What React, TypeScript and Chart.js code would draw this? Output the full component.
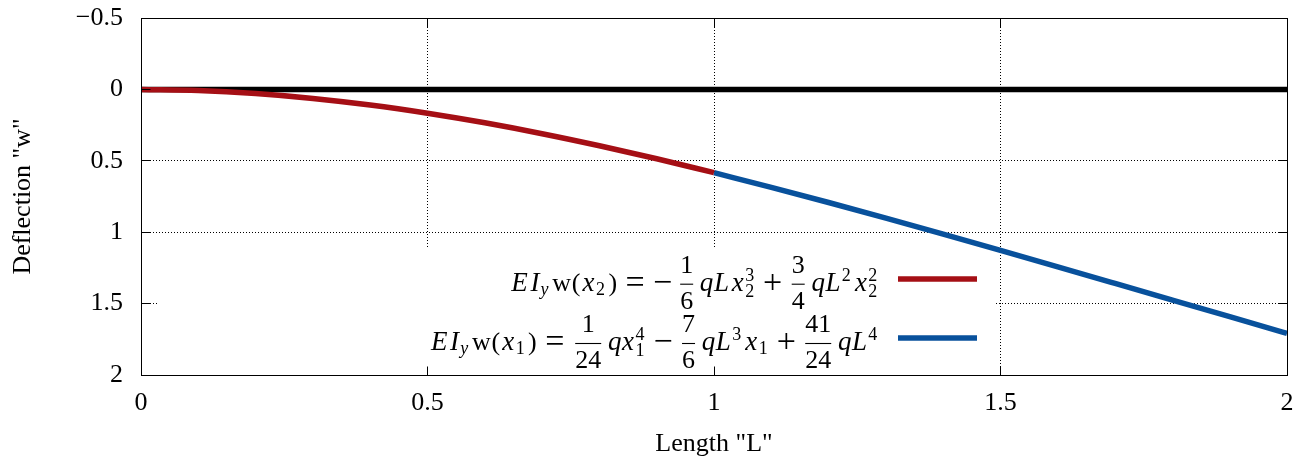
import React, { useEffect, useRef } from 'react';
import { Chart, registerables } from 'chart.js';

Chart.register(...registerables);

// ---- data ----
const xRed = [0, 0.1, 0.2, 0.3, 0.4, 0.5, 0.6, 0.7, 0.8, 0.9, 1.0];
const yRed = [0, 0.0073, 0.0287, 0.063, 0.1093, 0.1667, 0.234, 0.3103, 0.3947, 0.486, 0.5833];
const xBlue = [1.0, 1.1, 1.2, 1.3, 1.4, 1.5, 1.6, 1.7, 1.8, 1.9, 2.0];
const yBlue = [0.5833, 0.6857, 0.7921, 0.9017, 1.0137, 1.1276, 1.2427, 1.3587, 1.4751, 1.5917, 1.7083];
const xBase = [0, 2];
const yBase = [0, 0];

const xTicks = [0, 0.5, 1, 1.5, 2];
const xTickLabels = ['0', '0.5', '1', '1.5', '2'];
const yTicks = [-0.5, 0, 0.5, 1, 1.5, 2];
const yTickLabels = ['\u22120.5', '0', '0.5', '1', '1.5', '2'];

const xTitle = 'Length "L"';
const yTitle = 'Deflection "w"';

// legend formulas as math token lists
// ['i', glyph, advance(em)] italic, ['r', glyph, advance] roman, ['o', glyph, advance] operator,
// ['s', em] space, ['f', num, den] display fraction, ['x', sup, sub] scripts
type Tok = any[];
const legendRed: Tok[] = [
  ['i', 'E', 0.738], ['i', 'I', 0.44], ['x', null, 'y'], ['r', 'w', 0.722], ['r', '(', 0.389], ['i', 'x', 0.572], ['x', null, '2'], ['r', ')', 0.389],
  ['s', 0.278], ['o', '=', 0.778], ['s', 0.278], ['o', '\u2212', 0.778], ['s', 0.167], ['f', '1', '6'], ['s', 0.167],
  ['i', 'q', 0.46], ['i', 'L', 0.681], ['i', 'x', 0.572], ['x', '3', '2'], ['s', 0.222], ['o', '+', 0.778], ['s', 0.222],
  ['f', '3', '4'], ['s', 0.167], ['i', 'q', 0.46], ['i', 'L', 0.681], ['x', '2', null], ['i', 'x', 0.572], ['x', '2', '2'],
];
const legendBlue: Tok[] = [
  ['i', 'E', 0.738], ['i', 'I', 0.44], ['x', null, 'y'], ['r', 'w', 0.722], ['r', '(', 0.389], ['i', 'x', 0.572], ['x', null, '1'], ['r', ')', 0.389],
  ['s', 0.278], ['o', '=', 0.778], ['s', 0.278], ['f', '1', '24'], ['s', 0.167],
  ['i', 'q', 0.46], ['i', 'x', 0.572], ['x', '4', '1'], ['s', 0.222], ['o', '\u2212', 0.778], ['s', 0.222],
  ['f', '7', '6'], ['s', 0.167], ['i', 'q', 0.46], ['i', 'L', 0.681], ['x', '3', null], ['i', 'x', 0.572], ['x', null, '1'],
  ['s', 0.222], ['o', '+', 0.778], ['s', 0.222], ['f', '41', '24'], ['s', 0.167], ['i', 'q', 0.46], ['i', 'L', 0.681], ['x', '4', null],
];

const RED = '#a50f15';
const BLUE = '#08519c';
const FAMILY = "'Liberation Serif', serif";
const FS = 26;

function tokWidth(t: Tok, em: number): number {
  switch (t[0]) {
    case 'i':
    case 'r':
    case 'o':
      return t[2] * em;
    case 's':
      return t[1] * em;
    case 'f':
      return (Math.max(t[1].length, t[2].length) * 0.5 + 0.24) * em;
    case 'x': {
      const a = t[1] ? t[1].length * 0.398 : 0;
      const b = t[2] ? t[2].length * 0.398 : 0;
      return (Math.max(a, b) + 0.05) * em;
    }
  }
  return 0;
}

function drawMath(ctx: CanvasRenderingContext2D, row: Tok[], rightX: number, base: number, em: number) {
  const total = row.reduce((s, t) => s + tokWidth(t, em), 0);
  let x = rightX - total;
  const main = `${em}px ${FAMILY}`;
  const ital = `italic ${Math.round(em * 1.04)}px ${FAMILY}`;
  const op = `${Math.round(em * 1.3)}px ${FAMILY}`;
  const sc = `${Math.round(em * 0.7)}px ${FAMILY}`;
  const scI = `italic ${Math.round(em * 0.7)}px ${FAMILY}`;
  ctx.save();
  ctx.fillStyle = '#000';
  ctx.strokeStyle = '#000';
  ctx.textBaseline = 'alphabetic';
  for (const t of row) {
    const w = tokWidth(t, em);
    if (t[0] === 'i' || t[0] === 'r') {
      ctx.font = t[0] === 'i' ? ital : main;
      ctx.textAlign = 'center';
      ctx.fillText(t[1], x + w / 2, base);
    } else if (t[0] === 'o') {
      ctx.font = op;
      ctx.textAlign = 'center';
      ctx.fillText(t[1], x + w / 2, base + 0.08 * em);
    } else if (t[0] === 'f') {
      const inner = w - 0.24 * em;
      const cx = x + w / 2;
      ctx.font = main;
      ctx.textAlign = 'center';
      ctx.fillText(t[1], cx, base - 0.677 * em);
      ctx.fillText(t[2], cx, base + 0.686 * em);
      ctx.lineWidth = 1.1;
      ctx.beginPath();
      const by = base - 0.25 * em;
      ctx.moveTo(x + 0.12 * em, by);
      ctx.lineTo(x + 0.12 * em + inner, by);
      ctx.stroke();
    } else if (t[0] === 'x') {
      ctx.textAlign = 'left';
      const both = t[1] && t[2];
      if (t[1]) {
        ctx.font = /[a-z]/.test(t[1]) ? scI : sc;
        ctx.fillText(t[1], x, base - 0.38 * em);
      }
      if (t[2]) {
        ctx.font = /[a-z]/.test(t[2]) ? scI : sc;
        ctx.fillText(t[2], x, base + (both ? 0.247 : 0.17) * em);
      }
    }
    x += w;
  }
  ctx.restore();
}

const framePlugin = {
  id: 'gnuframe',
  beforeDatasetsDraw(chart: any) {
    const ctx = chart.ctx;
    const a = chart.chartArea;
    ctx.save();
    ctx.fillStyle = '#fff';
    ctx.fillRect(a.left + 17, 247, 996 - (a.left + 17), a.bottom - 247);
    ctx.restore();
  },
  afterDatasetsDraw(chart: any) {
    const ctx = chart.ctx;
    const a = chart.chartArea;
    const xs = chart.scales.x;
    const ys = chart.scales.y;
    const L = Math.round(a.left) + 0.5;
    const R = Math.round(a.right) + 0.5;
    const T = Math.round(a.top) + 0.5;
    const B = Math.round(a.bottom) + 0.5;
    ctx.save();
    ctx.strokeStyle = '#000';
    ctx.lineWidth = 1;
    ctx.beginPath();
    const tl = 9;
    xTicks.forEach((v) => {
      const p = Math.round(xs.getPixelForValue(v) - 0.5) + 0.5;
      ctx.moveTo(p, B);
      ctx.lineTo(p, B - tl);
      ctx.moveTo(p, T);
      ctx.lineTo(p, T + tl);
    });
    yTicks.forEach((v) => {
      const p = Math.round(ys.getPixelForValue(v) - 0.5) + 0.5;
      ctx.moveTo(L, p);
      ctx.lineTo(L + tl, p);
      ctx.moveTo(R, p);
      ctx.lineTo(R - tl, p);
    });
    ctx.stroke();
    ctx.strokeRect(L, T, R - L, B - T);
    ctx.restore();
  },
  afterDraw(chart: any) {
    const ctx = chart.ctx;
    drawMath(ctx, legendRed, 880, 290.7, FS);
    drawMath(ctx, legendBlue, 880, 350, FS);
    ctx.save();
    ctx.lineWidth = 5.5;
    ctx.lineCap = 'butt';
    ctx.strokeStyle = RED;
    ctx.beginPath();
    ctx.moveTo(898, 279);
    ctx.lineTo(977, 279);
    ctx.stroke();
    ctx.strokeStyle = BLUE;
    ctx.beginPath();
    ctx.moveTo(898, 338);
    ctx.lineTo(977, 338);
    ctx.stroke();
    ctx.restore();
  },
};

function pts(xs: number[], ys: number[]) {
  return xs.map((x, i) => ({ x, y: ys[i] }));
}

export default function App() {
  const ref = useRef<HTMLCanvasElement>(null);
  useEffect(() => {
    const font = { family: FAMILY, size: FS };
    const gridColor = (lo: number, hi: number) => (c: any) => {
      const v = c.tick ? c.tick.value : NaN;
      return v > lo + 1e-9 && v < hi - 1e-9 ? '#000' : 'rgba(0,0,0,0)';
    };
    const chart = new Chart(ref.current as HTMLCanvasElement, {
      type: 'line',
      data: {
        datasets: [
          { label: 'base', data: pts(xBase, yBase), borderColor: '#000', borderWidth: 5.5, pointRadius: 0, order: 3 },
          { label: 'red', data: pts(xRed, yRed), borderColor: RED, borderWidth: 5.5, pointRadius: 0, cubicInterpolationMode: 'monotone', order: 1 },
          { label: 'blue', data: pts(xBlue, yBlue), borderColor: BLUE, borderWidth: 5.5, pointRadius: 0, cubicInterpolationMode: 'monotone', order: 2 },
        ],
      } as any,
      options: {
        animation: false,
        responsive: false,
        events: [],
        layout: { padding: { left: 0, right: 21, top: 18, bottom: 0 } },
        plugins: { legend: { display: false }, tooltip: { enabled: false } },
        scales: {
          x: {
            type: 'linear',
            min: 0,
            max: 2,
            afterBuildTicks: (s: any) => { s.ticks = xTicks.map((v) => ({ value: v })); },
            afterFit: (s: any) => { s.height = 86; s.paddingLeft = 0; s.paddingRight = 0; s.paddingTop = 0; s.paddingBottom = 0; },
            ticks: {
              callback: (v: any) => xTickLabels[xTicks.findIndex((t) => Math.abs(t - v) < 1e-9)] ?? '',
              font, color: '#000', padding: 13, maxRotation: 0, autoSkip: false,
            },
            grid: { drawTicks: false, color: gridColor(0, 2), lineWidth: 1 },
            border: { display: false, dash: [1, 2] },
            title: { display: true, text: xTitle, font, color: '#000', padding: { top: 0, bottom: 1 } },
          },
          y: {
            type: 'linear',
            min: -0.5,
            max: 2,
            reverse: true,
            afterBuildTicks: (s: any) => { s.ticks = yTicks.map((v) => ({ value: v })); },
            afterFit: (s: any) => { s.width = 141; s.paddingLeft = 0; s.paddingRight = 0; s.paddingTop = 0; s.paddingBottom = 0; },
            ticks: {
              callback: (v: any) => yTickLabels[yTicks.findIndex((t) => Math.abs(t - v) < 1e-9)] ?? '',
              font, color: '#000', padding: 18, autoSkip: false,
            },
            grid: { drawTicks: false, color: gridColor(-0.5, 2), lineWidth: 1 },
            border: { display: false, dash: [1, 2] },
            title: { display: true, text: yTitle, font, color: '#000', padding: { top: 8, bottom: 0 } },
          },
        },
      } as any,
      plugins: [framePlugin],
    });
    return () => chart.destroy();
  }, []);
  return (
    <div style={{ position: 'fixed', left: 0, top: 0, width: 1308, height: 461, background: '#fff' }}>
      <canvas ref={ref} width={1308} height={461} style={{ display: 'block', width: 1308, height: 461 }} />
    </div>
  );
}
